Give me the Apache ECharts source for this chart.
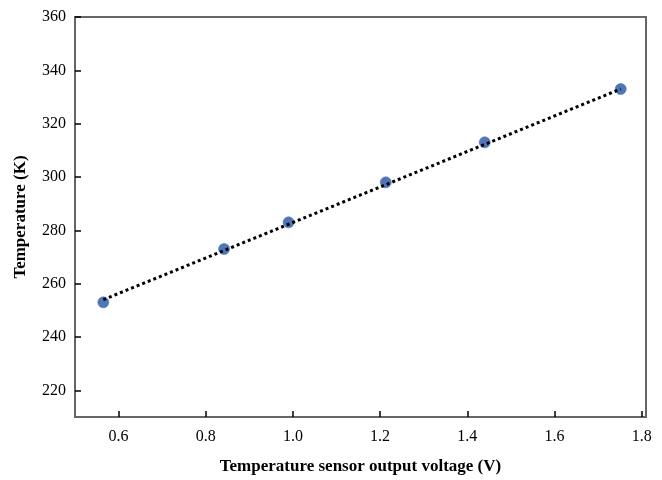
<!DOCTYPE html>
<html>
<head>
<meta charset="utf-8">
<script src="https://cdn.jsdelivr.net/npm/echarts@6/dist/echarts.min.js"></script>
<style>html,body{margin:0;padding:0;background:#fff;}#c{width:662px;height:480px;}</style>
</head>
<body>
<div id="c"></div>
<script>
const voltage = [0.565, 0.842, 0.99, 1.213, 1.44, 1.752];
const temperature = [253, 273, 283, 298, 313, 333];
const fitX = [0.565, 1.752];
const fitY = [254, 333];
const xTicks = [0.6, 0.8, 1.0, 1.2, 1.4, 1.6, 1.8];
const yTicks = [220, 240, 260, 280, 300, 320, 340, 360];
const xTitle = 'Temperature sensor output voltage (V)';
const yTitle = 'Temperature (K)';

const font = '"Liberation Serif", "Times New Roman", serif';
const chart = echarts.init(document.getElementById('c'));
chart.setOption({
  animation: false,
  backgroundColor: '#fff',
  grid: {left: 75, right: 16, top: 17, bottom: 63, show: true, borderColor: '#666', borderWidth: 2,
    containLabel: false, outerBoundsMode: 'none'},
  xAxis: {
    type: 'value', min: 0.5, max: 1.81,
    name: xTitle, nameLocation: 'middle', nameGap: 41,
    nameTextStyle: {fontFamily: font, fontWeight: 'bold', fontSize: 17, color: '#000'},
    axisLine: {show: true, lineStyle: {color: '#666', width: 2}},
    axisTick: {show: true, inside: true, length: 6, customValues: xTicks, lineStyle: {color: '#000', width: 1.5}},
    axisLabel: {fontFamily: font, fontSize: 16, color: '#000', margin: 12, customValues: xTicks,
      formatter: v => v.toFixed(1)},
    splitLine: {show: false}
  },
  yAxis: {
    type: 'value', min: 210, max: 360,
    name: yTitle, nameLocation: 'middle', nameGap: 46,
    nameTextStyle: {fontFamily: font, fontWeight: 'bold', fontSize: 17, color: '#000'},
    axisLine: {show: true, lineStyle: {color: '#666', width: 2}},
    axisTick: {show: true, inside: true, length: 6, customValues: yTicks, lineStyle: {color: '#000', width: 1.5}},
    axisLabel: {fontFamily: font, fontSize: 16, color: '#000', margin: 9, customValues: yTicks,
      formatter: v => String(v)},
    splitLine: {show: false}
  },
  series: [
    {
      type: 'line',
      data: fitX.map((x, i) => [x, fitY[i]]),
      showSymbol: false,
      symbol: 'none',
      lineStyle: {color: '#000', width: 3, type: [3, 3]},
      z: 3
    },
    {
      type: 'scatter',
      data: voltage.map((x, i) => [x, temperature[i]]),
      symbolSize: 11,
      itemStyle: {color: '#2454a4', borderColor: '#4a74bc', borderWidth: 0.8},
      z: 2
    }
  ]
});
</script>
</body>
</html>
